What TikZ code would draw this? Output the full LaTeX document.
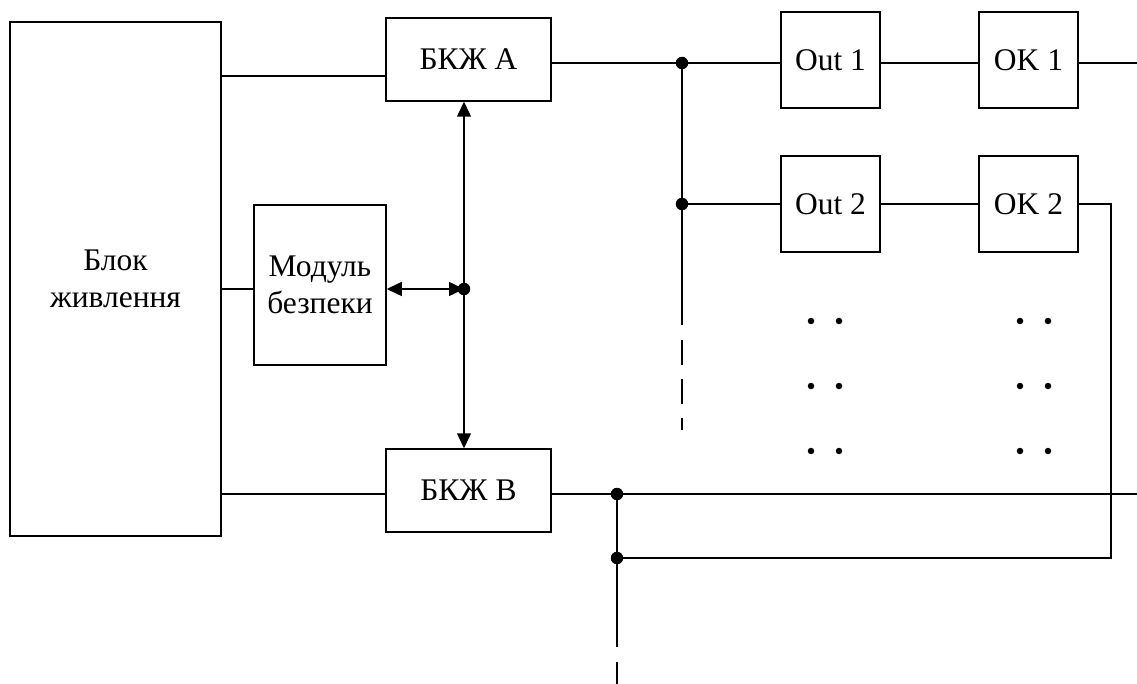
\documentclass[tikz,border=0pt]{standalone}
\usepackage{fontspec}
\setmainfont{Liberation Serif}
\usetikzlibrary{arrows.meta}
\begin{document}
\begin{tikzpicture}[x=1pt,y=-1pt,
  every path/.style={line width=1.5pt},
  blk/.style={draw,line width=1.5pt,inner sep=0pt,align=center,font=\fontsize{31.5}{37}\selectfont},
  jdot/.style={circle,fill=black,inner sep=0pt,minimum size=12.5pt},
  edot/.style={circle,fill=black,inner sep=0pt,minimum size=6.5pt},
  tips/.style={{Triangle[length=15pt,width=14pt]}-{Triangle[length=15pt,width=14pt]}}]
\useasboundingbox (0,0) rectangle (1137,684);
% boxes
\node[blk,minimum width=211pt,minimum height=514pt] (pow) at (115.5,279) {Блок\\живлення};
\node[blk,minimum width=165pt,minimum height=83pt] (bka) at (468.5,59.5) {БКЖ А};
\node[blk,minimum width=165pt,minimum height=83pt] (bkb) at (468.5,490.5) {БКЖ В};
\node[blk,minimum width=132pt,minimum height=160pt] (mod) at (320,285) {Модуль\\безпеки};
\node[blk,minimum width=99pt,minimum height=96pt] (out1) at (830.5,60) {Out 1};
\node[blk,minimum width=99pt,minimum height=96pt] (ok1) at (1028.5,60) {OK 1};
\node[blk,minimum width=99pt,minimum height=96pt] (out2) at (830.5,204) {Out 2};
\node[blk,minimum width=99pt,minimum height=96pt] (ok2) at (1028.5,204) {OK 2};
% helper coordinates
\coordinate (ya) at (0,76);
\coordinate (ym) at (0,289);
\coordinate (yb) at (0,494);
\coordinate (y1) at (0,63);
\coordinate (y2) at (0,204);
\coordinate (xv) at (464,0);
\coordinate (j1) at (682,63);
\coordinate (j2) at (682,204);
\coordinate (j3) at (617,494);
\coordinate (j4) at (617,558);
\coordinate (jm) at (464,289);
\coordinate (e1) at (1137,63);
\coordinate (e2) at (1137,494);
\coordinate (c1) at (1111,204);
\coordinate (c2) at (1111,558);
\coordinate (d1) at (682,430);
\coordinate (d2) at (617,684);
% power lines
\draw (pow.east |- ya) -- (bka.west |- ya);
\draw (pow.east |- ym) -- (mod.west |- ym);
\draw (pow.east |- yb) -- (bkb.west |- yb);
% bus arrows
\draw[tips] (xv |- bka.south) -- (xv |- bkb.north);
\draw[tips] (mod.east |- ym) -- (jm);
% top line
\draw (bka.east |- y1) -- (j1) -- (out1.west |- y1);
\draw (out1.east |- y1) -- (ok1.west |- y1);
\draw (ok1.east |- y1) -- (e1);
% second line
\draw (j1) -- (j2) -- (out2.west |- y2);
\draw (out2.east |- y2) -- (ok2.west |- y2);
\draw (ok2.east |- y2) -- (c1) -- (c2) -- (j4);
\draw[dash pattern=on 121pt off 15pt on 25pt off 14pt on 25pt off 14pt on 12pt off 100pt] (j2) -- (d1);
% bottom line
\draw (bkb.east |- yb) -- (j3) -- (e2);
\draw (j3) -- (j4);
\draw[dash pattern=on 89pt off 15pt on 40pt off 100pt] (j4) -- (d2);
% junction dots
\foreach \p in {j1,j2,j3,j4,jm} \node[jdot] at (\p) {};
% ellipsis dots
\foreach \x in {811,839,1020,1048}
  \foreach \y in {321,386,451}
    \node[edot] at (\x,\y) {};
\end{tikzpicture}
\end{document}
